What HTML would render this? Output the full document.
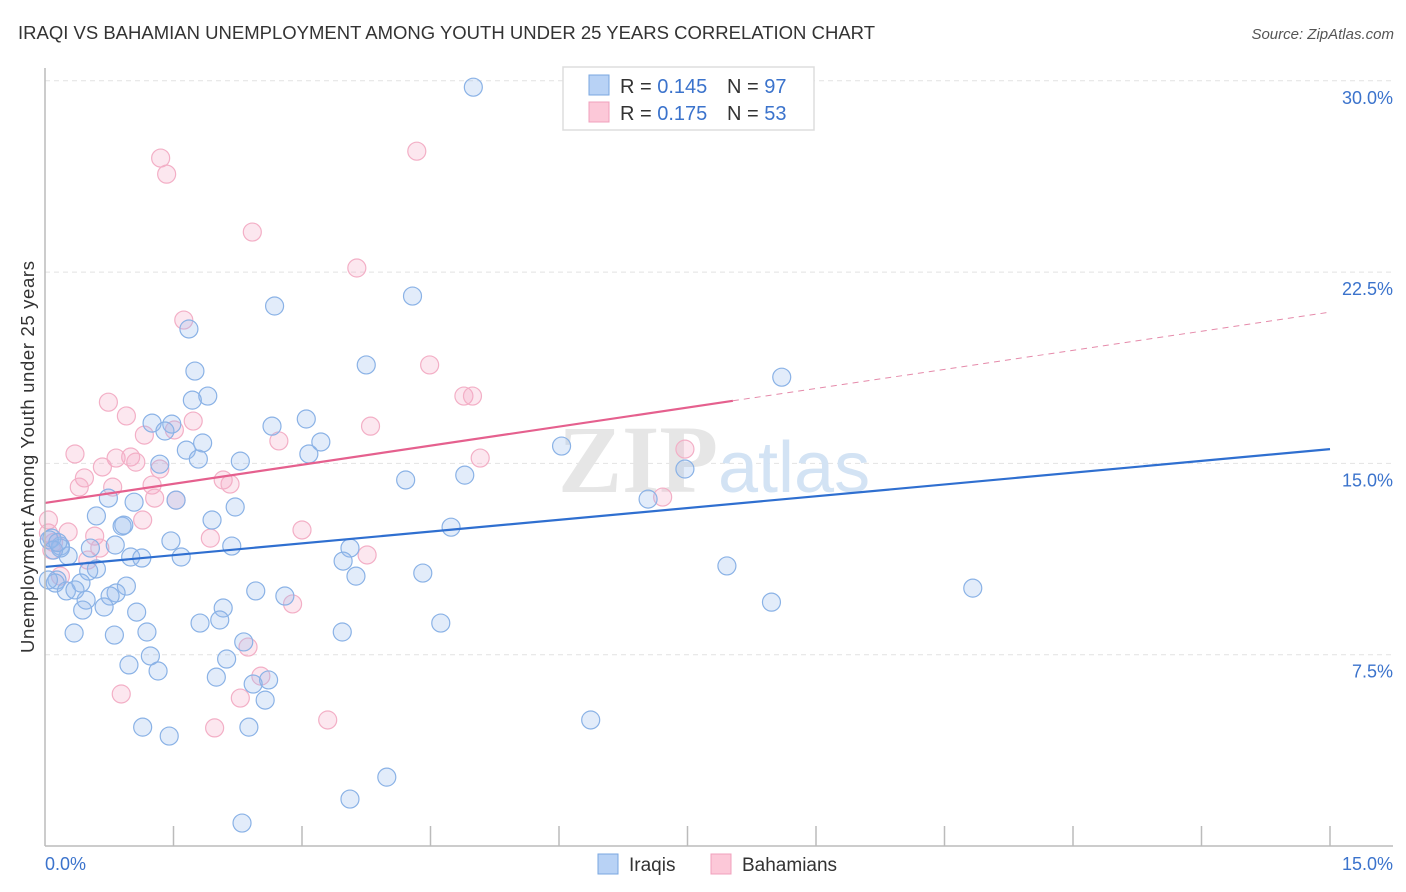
<!DOCTYPE html>
<html><head><meta charset="utf-8"><style>
body{margin:0;background:#fff;font-family:"Liberation Sans",sans-serif;}
svg{display:block}
</style></head><body>
<svg id="chart" width="1406" height="892" xmlns="http://www.w3.org/2000/svg">
<text x="18" y="39" font-size="18.5" fill="#333" textLength="857">IRAQI VS BAHAMIAN UNEMPLOYMENT AMONG YOUTH UNDER 25 YEARS CORRELATION CHART</text>
<text x="1394" y="39" font-size="15" fill="#555" font-style="italic" text-anchor="end">Source: ZipAtlas.com</text>
<g id="grid"></g>
<text x="718" y="492" font-size="96" fill="#e6e6e6" text-anchor="end" font-family="Liberation Serif" font-weight="bold">ZIP</text>
<text x="718" y="492" font-size="72" fill="#d3e3f4">atlas</text>
<g id="pts"></g>
<g id="trends"></g>
<g id="axes"></g>
<text transform="translate(34,457) rotate(-90)" font-size="18.5" fill="#333" text-anchor="middle" textLength="392">Unemployment Among Youth under 25 years</text>
<g>
<rect x="563" y="67" width="251" height="63" fill="#fff" stroke="#ddd" stroke-width="1.5"/>
<rect x="589" y="75" width="20" height="20" fill="#b8d2f5" stroke="#7aa7e0"/>
<rect x="589" y="102" width="20" height="20" fill="#fcc8d8" stroke="#f0a0bc"/>
<text x="620" y="93" font-size="20" fill="#333">R = <tspan fill="#3b73cc">0.145</tspan><tspan x="727">N = </tspan><tspan fill="#3b73cc">97</tspan></text>
<text x="620" y="120" font-size="20" fill="#333">R = <tspan fill="#3b73cc">0.175</tspan><tspan x="727">N = </tspan><tspan fill="#3b73cc">53</tspan></text>
</g>
<g>
<rect x="598" y="854" width="20" height="20" fill="#b8d2f5" stroke="#7aa7e0"/>
<text x="629" y="871" font-size="19" fill="#333">Iraqis</text>
<rect x="711" y="854" width="20" height="20" fill="#fcc8d8" stroke="#f0a0bc"/>
<text x="742" y="871" font-size="19" fill="#333">Bahamians</text>
</g>
</svg>
<script>
const yTicks=[7.5,15,22.5,30];
const yTickLabels=["7.5%","15.0%","22.5%","30.0%"];
const blueX=[5.00,2.68,4.29,1.68,3.75,1.75,8.60,1.90,1.72,3.05,1.25,1.48,2.65,1.40,3.22,1.84,1.65,3.08,6.03,1.79,2.28,1.34,7.47,4.90,4.21,0.74,1.04,1.53,2.22,0.60,1.95,0.90,4.74,7.04,0.08,0.18,1.47,2.18,3.56,0.27,1.00,1.13,1.59,3.48,0.60,0.51,7.96,4.41,3.63,0.14,0.42,0.95,0.12,0.25,0.35,0.83,2.46,0.76,2.80,0.48,0.44,1.07,0.69,2.08,2.04,1.81,4.62,8.48,10.83,0.34,0.81,1.19,3.47,2.32,2.12,1.23,0.98,1.32,2.00,2.61,2.43,2.57,6.37,1.14,2.38,1.45,3.99,3.56,2.30,0.04,0.18,0.82,0.92,0.53,0.05,0.10,0.15];
const blueY=[29.75,21.17,21.56,20.27,18.86,18.62,18.38,17.64,17.48,16.74,16.58,16.54,16.46,16.27,15.84,15.80,15.52,15.37,15.68,15.17,15.09,14.97,14.78,14.54,14.35,13.64,13.48,13.56,13.29,12.94,12.78,12.54,12.50,13.60,12.07,11.76,11.96,11.76,11.68,11.37,11.33,11.29,11.33,11.17,10.86,10.78,10.98,10.70,10.58,10.43,10.31,10.19,10.31,10.00,10.04,9.92,10.00,9.80,9.80,9.64,9.25,9.17,9.37,9.33,8.86,8.74,8.74,9.56,10.11,8.35,8.27,8.39,8.39,8.00,7.33,7.45,7.10,6.86,6.62,6.51,6.35,5.72,4.94,4.66,4.66,4.31,2.70,1.84,0.90,10.43,11.68,11.80,12.58,11.68,12.0,11.6,11.9];
const pinkX=[1.35,1.42,4.34,2.42,3.64,1.62,4.49,4.89,4.99,0.74,0.95,1.73,3.80,1.16,1.51,2.73,0.35,0.83,1.00,1.06,0.67,1.34,7.47,5.08,2.08,2.16,0.46,0.40,0.79,1.25,1.53,1.28,7.21,1.14,3.00,1.93,0.27,0.58,0.64,0.50,3.76,0.04,0.08,0.18,2.89,2.37,2.52,0.89,2.28,1.98,3.30,0.04,0.10];
const pinkY=[26.97,26.34,27.24,24.07,22.66,20.62,18.86,17.64,17.64,17.40,16.86,16.66,16.46,16.11,16.31,15.88,15.37,15.21,15.25,15.05,14.86,14.78,15.56,15.21,14.35,14.19,14.43,14.07,14.07,14.15,13.56,13.64,13.68,12.78,12.39,12.07,12.31,12.15,11.68,11.21,11.41,12.27,11.60,10.58,9.49,7.80,6.66,5.96,5.80,4.63,4.94,12.78,11.9];
const blueTrend=[10.94,15.56];
const pinkTrend=[13.45,20.93];
const pinkSolidEnd=8.03;

const NS="http://www.w3.org/2000/svg";
const X0=45,X1=1330,Y0=846,YPER=191.3/7.5;
const sx=v=>X0+(v/15)*(X1-X0);
const sy=v=>Y0-v*YPER;
function mk(tag,attrs,parent){const e=document.createElementNS(NS,tag);for(const k in attrs)e.setAttribute(k,attrs[k]);parent.appendChild(e);return e;}
const grid=document.getElementById('grid');
yTicks.forEach((t,i)=>{
 const l=mk('line',{x1:X0,x2:1393,y1:sy(t),y2:sy(t),stroke:'#e2e2e2','stroke-dasharray':'5,4'},grid);
 
 
 const tx=mk('text',{x:1393,y:sy(t)+23,'font-size':18,fill:'#3b73cc','text-anchor':'end'},grid);
 tx.textContent=yTickLabels[i];
 
 
});
const axes=document.getElementById('axes');
const ya=mk('line',{x1:X0,x2:X0,y1:68,y2:Y0,stroke:'#bbb','stroke-width':1.5},axes);


const xa=mk('line',{x1:X0,x2:1393,y1:Y0,y2:Y0,stroke:'#bbb','stroke-width':1.5},axes);


for(let i=1;i<=10;i++){
 const t=mk('line',{x1:sx(i*1.5),x2:sx(i*1.5),y1:826,y2:Y0,stroke:'#bbb','stroke-width':1.5},axes);
 
 
}
const xl0=mk('text',{x:45,y:870,'font-size':18,fill:'#3b73cc'},axes);xl0.textContent='0.0%';


const xl1=mk('text',{x:1393,y:870,'font-size':18,fill:'#3b73cc','text-anchor':'end'},axes);xl1.textContent='15.0%';



const pts=document.getElementById('pts');
pinkX.forEach((x,i)=>{
 const c=mk('circle',{cx:sx(x),cy:sy(pinkY[i]),r:9,fill:'rgba(246,170,196,0.28)',stroke:'#f3afc6','stroke-width':1.2},pts);
 
 
});
blueX.forEach((x,i)=>{
 const c=mk('circle',{cx:sx(x),cy:sy(blueY[i]),r:9,fill:'rgba(150,188,238,0.28)',stroke:'#8ab2e6','stroke-width':1.2},pts);
 
 
});
const tr=document.getElementById('trends');
const bl=mk('line',{x1:sx(0),y1:sy(blueTrend[0]),x2:sx(15),y2:sy(blueTrend[1]),stroke:'#2f6fd0','stroke-width':2.2},tr);


const pAt=x=>pinkTrend[0]+(pinkTrend[1]-pinkTrend[0])*x/15;
const pl=mk('line',{x1:sx(0),y1:sy(pAt(0)),x2:sx(pinkSolidEnd),y2:sy(pAt(pinkSolidEnd)),stroke:'#e5608e','stroke-width':2.2},tr);


const pd=mk('line',{x1:sx(pinkSolidEnd),y1:sy(pAt(pinkSolidEnd)),x2:sx(15),y2:sy(pAt(15)),stroke:'#e58aaa','stroke-width':1,'stroke-dasharray':'6,5'},tr);


</script>
</body></html>
